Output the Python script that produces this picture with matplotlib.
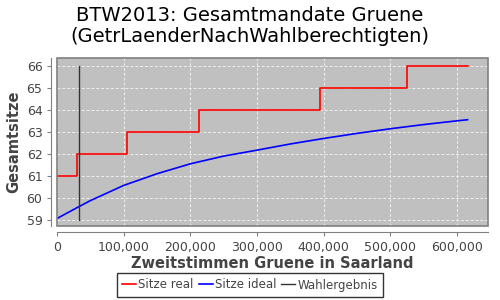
import matplotlib
matplotlib.use('Agg')
import matplotlib.pyplot as plt
from matplotlib.patches import Rectangle
from matplotlib.ticker import FuncFormatter

# Sitze real (step function)
real_x = [0, 30000, 105000, 213400, 394000, 525600, 616000]
real_y = [61, 62, 63, 64, 65, 66, 66]

# Sitze ideal
ideal_x = [0, 32400, 50000, 100000, 150000, 200000, 250000, 300000, 350000,
           400000, 450000, 500000, 550000, 600000, 616000]
ideal_y = [59.07, 59.6, 59.88, 60.57, 61.1, 61.55, 61.9, 62.17, 62.45,
           62.7, 62.93, 63.14, 63.33, 63.5, 63.55]

# Wahlergebnis
wahl_x = 32400
wahl_y = [59, 66]

fig = plt.figure(figsize=(5, 3), dpi=100)
ax = fig.add_axes([57 / 500, 1 - 226 / 300, 431 / 500, 168 / 300])
ax.set_facecolor('#c0c0c0')

ax.step(real_x, real_y, where='post', color='red', lw=1.2, label='Sitze real')
ax.plot(ideal_x, ideal_y, color='blue', lw=1.2, label='Sitze ideal')
ax.plot([wahl_x, wahl_x], wahl_y, color='#333333', lw=1, label='Wahlergebnis')

ax.set_xlim(0, 646700)
ax.set_ylim(58.73, 66.35)
ax.set_xticks([0, 100000, 200000, 300000, 400000, 500000, 600000])
ax.set_yticks(range(59, 67))
ax.xaxis.set_major_formatter(FuncFormatter(lambda v, p: f'{int(v):,}'))
ax.grid(True, color='#eeeeee', linestyle=(0, (3, 2)), lw=0.7)
ax.set_axisbelow(True)

for s in ['top', 'right']:
    ax.spines[s].set_visible(False)
for s in ['left', 'bottom']:
    ax.spines[s].set_position(('outward', 4))
    ax.spines[s].set_color('#808080')
ax.add_patch(Rectangle((0, 0), 1, 1, transform=ax.transAxes, fill=False,
                       edgecolor='#808080', lw=1.2, clip_on=False, zorder=5))
ax.tick_params(colors='#808080', labelcolor='#444444', labelsize=9, length=3)

ax.set_xlabel('Zweitstimmen Gruene in Saarland', fontsize=10.5, fontweight='bold',
              color='#444444', labelpad=2)
ax.set_ylabel('Gesamtsitze', fontsize=10.5, fontweight='bold', color='#444444')
fig.suptitle('BTW2013: Gesamtmandate Gruene\n(GetrLaenderNachWahlberechtigten)',
             fontsize=14, y=0.98, color='black', linespacing=1.15)

leg = fig.legend(loc='center', bbox_to_anchor=(0.5, 1 - 285 / 300),
                 ncol=3, fontsize=8.5, frameon=True, fancybox=False,
                 handlelength=1.2, handletextpad=0.2, columnspacing=0.4,
                 borderpad=0.45, borderaxespad=0)
leg.get_frame().set_edgecolor('black')
leg.get_frame().set_linewidth(1)
for t in leg.get_texts():
    t.set_color('#444444')

fig.savefig('out.png', dpi=100)
